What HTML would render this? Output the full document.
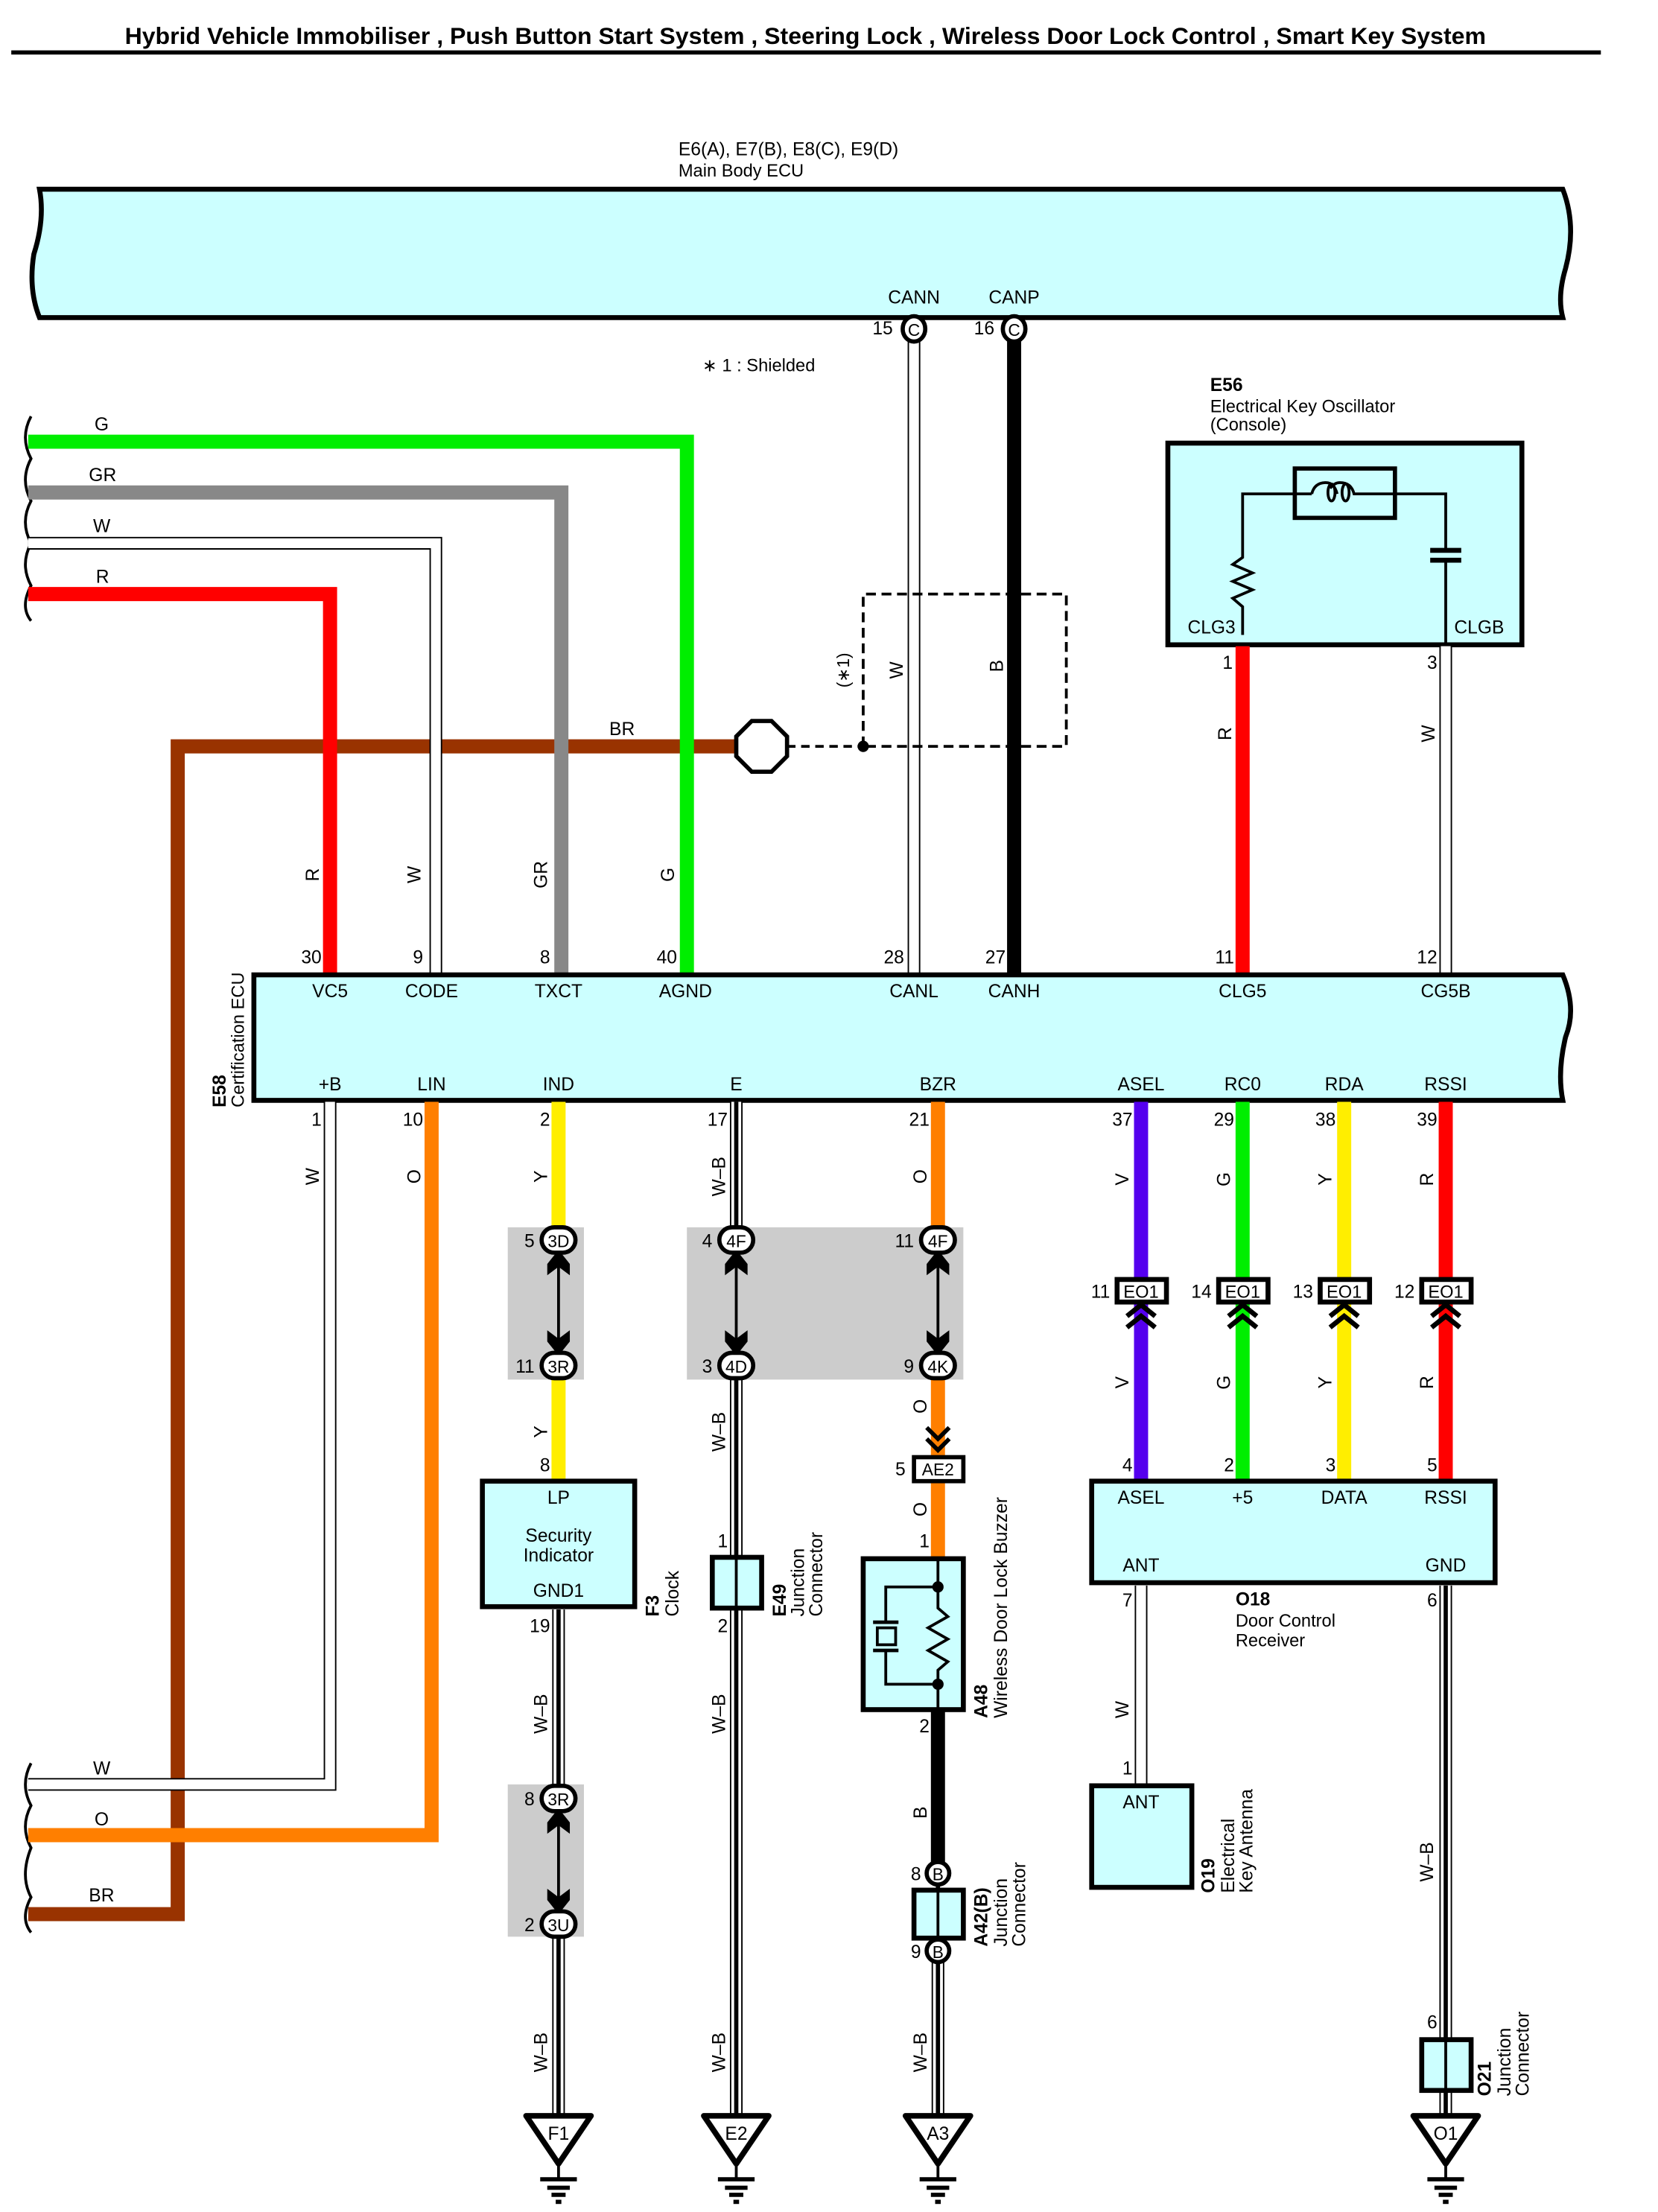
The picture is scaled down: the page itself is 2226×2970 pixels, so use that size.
<!DOCTYPE html>
<html><head><meta charset="utf-8"><style>
html,body{margin:0;padding:0;background:#fff}
svg{display:block}
text{font-family:"Liberation Sans",sans-serif;font-size:13px;fill:#000}
.b{font-weight:bold}
.m{text-anchor:middle}
.e{text-anchor:end}
</style></head><body>
<svg width="2226" height="2970" viewBox="0 0 1175.5 1568" xmlns="http://www.w3.org/2000/svg">
<defs>
<g id="gnd"><path d="M-23,0 L23,0 L0,34 Z" fill="#fff" stroke="#000" stroke-width="4" stroke-linejoin="round"/><line x1="0" y1="34" x2="0" y2="44" stroke="#000" stroke-width="2"/><line x1="-13" y1="45" x2="13" y2="45" stroke="#000" stroke-width="3"/><line x1="-8" y1="51" x2="8" y2="51" stroke="#000" stroke-width="3"/><line x1="-5" y1="56" x2="5" y2="56" stroke="#000" stroke-width="3"/><line x1="-2" y1="61" x2="2" y2="61" stroke="#000" stroke-width="3"/></g>
</defs>
<!-- title -->
<text x="571" y="31" class="b m" style="font-size:16.5px" textLength="965" lengthAdjust="spacingAndGlyphs">Hybrid Vehicle Immobiliser , Push Button Start System , Steering Lock , Wireless Door Lock Control , Smart Key System</text>
<line x1="8" y1="37" x2="1135" y2="37" stroke="#000" stroke-width="3"/>

<!-- main body ECU -->
<text x="481" y="110" style="font-size:13px">E6(A), E7(B), E8(C), E9(D)</text>
<text x="481" y="125" style="font-size:12.5px">Main Body ECU</text>
<path d="M28,134 L1108,134 Q1118,160 1110,190 Q1104,210 1108,225 L28,225 Q20,205 24,180 Q32,155 28,134 Z" fill="#ccffff" stroke="#000" stroke-width="3.5"/>
<text x="648" y="215" class="m">CANN</text>
<text x="719" y="215" class="m">CANP</text>
<text x="633" y="237" class="e">15</text>
<text x="705" y="237" class="e">16</text>

<text x="498" y="263" style="font-size:12.5px">∗ 1 : Shielded</text>

<!-- BR (drawn first, under other wires) -->
<polyline points="20,1357 126,1357 126,529 523,529" fill="none" stroke="#993300" stroke-width="10"/>
<text x="432" y="521">BR</text>

<!-- CANN white -->
<line x1="648" y1="240" x2="648" y2="690" stroke="#000" stroke-width="9"/>
<line x1="648" y1="240" x2="648" y2="690" stroke="#fff" stroke-width="7"/>
<line x1="719" y1="240" x2="719" y2="690" stroke="#000" stroke-width="10"/>
<ellipse cx="648" cy="233" rx="8" ry="9" fill="#fff" stroke="#000" stroke-width="3"/><text x="648" y="238" class="m" style="font-size:12px">C</text>
<ellipse cx="719" cy="233" rx="8" ry="9" fill="#fff" stroke="#000" stroke-width="3"/><text x="719" y="238" class="m" style="font-size:12px">C</text>

<!-- left break marks -->
<path d="M22,295 Q14,310 22,325 Q14,340 22,355 Q14,370 22,385 Q14,400 22,415 Q14,430 22,440" fill="none" stroke="#000" stroke-width="2"/>
<path d="M22,1250 Q14,1265 22,1280 Q14,1295 22,1310 Q14,1330 22,1345 Q14,1360 22,1370" fill="none" stroke="#000" stroke-width="2"/>

<polyline points="20,313 487,313 487,690" fill="none" stroke="#00ee00" stroke-width="10"/>
<text x="67" y="305">G</text>
<polyline points="20,349 398,349 398,690" fill="none" stroke="#888" stroke-width="10"/>
<text x="63" y="341">GR</text>
<polyline points="20,385 309,385 309,690" fill="none" stroke="#000" stroke-width="9"/>
<polyline points="20,385 309,385 309,690" fill="none" stroke="#fff" stroke-width="7"/>
<text x="66" y="377">W</text>
<polyline points="20,421 234,421 234,690" fill="none" stroke="#ff0000" stroke-width="10"/>
<text x="68" y="413">R</text>

<polygon points="533,511 547,511 558,522 558,536 547,547 533,547 522,536 522,522" fill="#fff" stroke="#000" stroke-width="3"/>
<line x1="558" y1="529" x2="612" y2="529" stroke="#000" stroke-width="2" stroke-dasharray="6,4"/>
<circle cx="612" cy="529" r="4" fill="#000"/>
<path d="M612,529 L612,421 L756,421 L756,529 L612,529" fill="none" stroke="#000" stroke-width="2" stroke-dasharray="7,4"/>
<text transform="translate(602,475) rotate(-90)" class="m" style="font-size:12px">(∗1)</text>
<text transform="translate(640,475) rotate(-90)" class="m">W</text>
<text transform="translate(711,472) rotate(-90)" class="m">B</text>

<!-- E56 -->
<text x="858" y="277" class="b">E56</text>
<text x="858" y="292" style="font-size:12.5px">Electrical Key Oscillator</text>
<text x="858" y="305" style="font-size:12.5px">(Console)</text>
<rect x="828" y="314" width="251" height="143" fill="#ccffff" stroke="#000" stroke-width="3.5"/>
<rect x="918" y="332" width="71" height="35" fill="none" stroke="#000" stroke-width="3"/>
<polyline points="881,450 881,430 874,424 888,418 874,412 888,406 874,400 881,395 881,350 930,350" fill="none" stroke="#000" stroke-width="2"/>
<path d="M930,350 Q932,342 940,342 Q946,342 948,350 M943,346 Q946,342 950,342 Q958,342 960,350 L990,350" fill="none" stroke="#000" stroke-width="2"/>
<ellipse cx="944" cy="349" rx="2.5" ry="6" fill="none" stroke="#000" stroke-width="2"/>
<ellipse cx="954" cy="349" rx="2.5" ry="6" fill="none" stroke="#000" stroke-width="2"/>
<polyline points="990,350 1025,350 1025,389" fill="none" stroke="#000" stroke-width="2"/>
<line x1="1014" y1="390" x2="1036" y2="390" stroke="#000" stroke-width="3.5"/>
<line x1="1014" y1="397" x2="1036" y2="397" stroke="#000" stroke-width="3.5"/>
<line x1="1025" y1="398" x2="1025" y2="457" stroke="#000" stroke-width="2"/>
<text x="842" y="449">CLG3</text>
<text x="1031" y="449">CLGB</text>
<line x1="881" y1="458" x2="881" y2="690" stroke="#ff0000" stroke-width="10"/>
<line x1="1025" y1="458" x2="1025" y2="690" stroke="#000" stroke-width="9"/>
<line x1="1025" y1="458" x2="1025" y2="690" stroke="#fff" stroke-width="7"/>
<text x="874" y="474" class="e">1</text>
<text x="1019" y="474" class="e">3</text>
<text transform="translate(873,520) rotate(-90)" class="m">R</text>
<text transform="translate(1017,520) rotate(-90)" class="m">W</text>

<text transform="translate(226,620) rotate(-90)" class="m">R</text>
<text transform="translate(298,620) rotate(-90)" class="m">W</text>
<text transform="translate(388,620) rotate(-90)" class="m">GR</text>
<text transform="translate(478,620) rotate(-90)" class="m">G</text>
<text x="228" y="683" class="e">30</text>
<text x="300" y="683" class="e">9</text>
<text x="390" y="683" class="e">8</text>
<text x="480" y="683" class="e">40</text>
<text x="641" y="683" class="e">28</text>
<text x="713" y="683" class="e">27</text>
<text x="875" y="683" class="e">11</text>
<text x="1019" y="683" class="e">12</text>

<!-- Certification ECU -->
<path d="M180,691 L1108,691 Q1118,715 1110,735 Q1104,760 1108,780 L180,780 Z" fill="#ccffff" stroke="#000" stroke-width="3.5"/>
<text transform="translate(160,785) rotate(-90)" class="b">E58</text>
<text transform="translate(173,785) rotate(-90)" style="font-size:12.5px">Certification ECU</text>
<text x="234" y="707" class="m">VC5</text><text x="306" y="707" class="m">CODE</text><text x="396" y="707" class="m">TXCT</text><text x="486" y="707" class="m">AGND</text><text x="648" y="707" class="m">CANL</text><text x="719" y="707" class="m">CANH</text><text x="881" y="707" class="m">CLG5</text><text x="1025" y="707" class="m">CG5B</text>
<text x="234" y="773" class="m">+B</text><text x="306" y="773" class="m">LIN</text><text x="396" y="773" class="m">IND</text><text x="522" y="773" class="m">E</text><text x="665" y="773" class="m">BZR</text><text x="809" y="773" class="m">ASEL</text><text x="881" y="773" class="m">RC0</text><text x="953" y="773" class="m">RDA</text><text x="1025" y="773" class="m">RSSI</text>
<text x="228" y="798" class="e">1</text>
<text x="300" y="798" class="e">10</text>
<text x="390" y="798" class="e">2</text>
<text x="516" y="798" class="e">17</text>
<text x="659" y="798" class="e">21</text>
<text x="803" y="798" class="e">37</text>
<text x="875" y="798" class="e">29</text>
<text x="947" y="798" class="e">38</text>
<text x="1019" y="798" class="e">39</text>

<polyline points="234,781 234,1265 20,1265" fill="none" stroke="#000" stroke-width="9"/>
<polyline points="234,781 234,1265 20,1265" fill="none" stroke="#fff" stroke-width="7"/>
<text transform="translate(226,834) rotate(-90)" class="m">W</text>
<text x="66" y="1258">W</text>
<polyline points="306,781 306,1301 20,1301" fill="none" stroke="#ff7f00" stroke-width="10"/>
<text transform="translate(298,834) rotate(-90)" class="m">O</text>
<text x="67" y="1294">O</text>
<text x="63" y="1348">BR</text>

<rect x="360" y="870" width="54" height="108" fill="#cccccc"/>
<rect x="487" y="870" width="196" height="108" fill="#cccccc"/>
<rect x="360" y="1265" width="54" height="108" fill="#cccccc"/>

<!-- IND Y -->
<line x1="396" y1="781" x2="396" y2="872" stroke="#ffee00" stroke-width="10"/>
<line x1="396" y1="976" x2="396" y2="1050" stroke="#ffee00" stroke-width="10"/>
<text transform="translate(388,834) rotate(-90)" class="m">Y</text>
<text transform="translate(388,1015) rotate(-90)" class="m">Y</text>
<text x="390" y="1043" class="e">8</text>
<!-- E W-B -->
<g>
<line x1="522" y1="781" x2="522" y2="872" stroke="#000" stroke-width="9"/>
<line x1="522" y1="781" x2="522" y2="872" stroke="#fff" stroke-width="7"/>
<line x1="522" y1="781" x2="522" y2="872" stroke="#000" stroke-width="3"/>
<line x1="522" y1="976" x2="522" y2="1500" stroke="#000" stroke-width="9"/>
<line x1="522" y1="976" x2="522" y2="1500" stroke="#fff" stroke-width="7"/>
<line x1="522" y1="976" x2="522" y2="1500" stroke="#000" stroke-width="3"/>
</g>
<text transform="translate(514,834) rotate(-90)" class="m">W–B</text>
<text transform="translate(514,1015) rotate(-90)" class="m">W–B</text>
<text transform="translate(514,1215) rotate(-90)" class="m">W–B</text>
<text transform="translate(514,1455) rotate(-90)" class="m">W–B</text>
<!-- BZR O -->
<line x1="665" y1="781" x2="665" y2="872" stroke="#ff7f00" stroke-width="10"/>
<line x1="665" y1="976" x2="665" y2="1105" stroke="#ff7f00" stroke-width="10"/>
<text transform="translate(657,834) rotate(-90)" class="m">O</text>
<text transform="translate(657,997) rotate(-90)" class="m">O</text>
<text transform="translate(657,1070) rotate(-90)" class="m">O</text>

<!-- F1 W-B -->
<line x1="396" y1="1141" x2="396" y2="1268" stroke="#000" stroke-width="9"/>
<line x1="396" y1="1141" x2="396" y2="1268" stroke="#fff" stroke-width="7"/>
<line x1="396" y1="1141" x2="396" y2="1268" stroke="#000" stroke-width="3"/>
<line x1="396" y1="1371" x2="396" y2="1500" stroke="#000" stroke-width="9"/>
<line x1="396" y1="1371" x2="396" y2="1500" stroke="#fff" stroke-width="7"/>
<line x1="396" y1="1371" x2="396" y2="1500" stroke="#000" stroke-width="3"/>

<g stroke="#000" fill="#000">
<line x1="396" y1="890" x2="396" y2="958" stroke-width="2"/>
<line x1="522" y1="890" x2="522" y2="958" stroke-width="2"/>
<line x1="665" y1="890" x2="665" y2="958" stroke-width="2"/>
<line x1="396" y1="1285" x2="396" y2="1354" stroke-width="2"/>
<path d="M396,886 L404,896 L404,904 L396,898 L388,904 L388,896Z M396,961 L404,951 L404,943 L396,949 L388,943 L388,951Z" stroke="none"/>
<path d="M522,886 L530,896 L530,904 L522,898 L514,904 L514,896Z M522,961 L530,951 L530,943 L522,949 L514,943 L514,951Z" stroke="none"/>
<path d="M665,886 L673,896 L673,904 L665,898 L657,904 L657,896Z M665,961 L673,951 L673,943 L665,949 L657,943 L657,951Z" stroke="none"/>
<path d="M396,1282 L404,1292 L404,1300 L396,1294 L388,1300 L388,1292Z M396,1357 L404,1347 L404,1339 L396,1345 L388,1339 L388,1347Z" stroke="none"/>
</g>
<g fill="#fff" stroke="#000" stroke-width="3">
<rect x="384" y="870" width="24" height="18" rx="9"/>
<rect x="384" y="959" width="24" height="18" rx="9"/>
<rect x="510" y="870" width="24" height="18" rx="9"/>
<rect x="510" y="959" width="24" height="18" rx="9"/>
<rect x="653" y="870" width="24" height="18" rx="9"/>
<rect x="653" y="959" width="24" height="18" rx="9"/>
<rect x="384" y="1266" width="24" height="18" rx="9"/>
<rect x="384" y="1355" width="24" height="18" rx="9"/>
</g>
<text x="396" y="884" class="m" style="font-size:12px">3D</text><text x="396" y="973" class="m" style="font-size:12px">3R</text>
<text x="522" y="884" class="m" style="font-size:12px">4F</text><text x="522" y="973" class="m" style="font-size:12px">4D</text>
<text x="665" y="884" class="m" style="font-size:12px">4F</text><text x="665" y="973" class="m" style="font-size:12px">4K</text>
<text x="396" y="1280" class="m" style="font-size:12px">3R</text><text x="396" y="1369" class="m" style="font-size:12px">3U</text>
<text x="379" y="884" class="e">5</text><text x="379" y="973" class="e">11</text>
<text x="505" y="884" class="e">4</text><text x="505" y="973" class="e">3</text>
<text x="648" y="884" class="e">11</text><text x="648" y="973" class="e">9</text>
<text x="379" y="1280" class="e">8</text><text x="379" y="1369" class="e">2</text>

<!-- Security indicator -->
<rect x="342" y="1050" width="108" height="89" fill="#ccffff" stroke="#000" stroke-width="3.5"/>
<text x="396" y="1066" class="m">LP</text>
<text x="396" y="1093" class="m">Security</text>
<text x="396" y="1107" class="m">Indicator</text>
<text x="396" y="1132" class="m">GND1</text>
<text transform="translate(467,1146) rotate(-90)" class="b">F3</text>
<text transform="translate(481,1146) rotate(-90)">Clock</text>
<text x="390" y="1157" class="e">19</text>
<text transform="translate(388,1215) rotate(-90)" class="m">W–B</text>
<text transform="translate(388,1455) rotate(-90)" class="m">W–B</text>

<!-- E49 -->
<rect x="505" y="1104" width="35" height="36" fill="#ccffff" stroke="#000" stroke-width="3.5"/>
<line x1="522" y1="1104" x2="522" y2="1140" stroke="#000" stroke-width="2"/>
<text x="516" y="1097" class="e">1</text>
<text x="516" y="1157" class="e">2</text>
<text transform="translate(557,1146) rotate(-90)" class="b">E49</text>
<text transform="translate(570,1146) rotate(-90)">Junction</text>
<text transform="translate(583,1146) rotate(-90)">Connector</text>

<!-- AE2 -->
<path d="M657,1012 L665,1020 L673,1012 M657,1020 L665,1028 L673,1020" fill="none" stroke="#000" stroke-width="3"/>
<rect x="648" y="1033" width="35" height="17" fill="#fff" stroke="#000" stroke-width="3"/>
<text x="665" y="1046" class="m" style="font-size:12px">AE2</text>
<text x="642" y="1046" class="e">5</text>
<text x="659" y="1097" class="e">1</text>

<!-- A48 -->
<rect x="612" y="1105" width="71" height="107" fill="#ccffff" stroke="#000" stroke-width="3.5"/>
<polyline points="665,1105 665,1140 672,1146 658,1154 672,1162 658,1170 672,1178 665,1184 665,1212" fill="none" stroke="#000" stroke-width="2"/>
<circle cx="665" cy="1125" r="4" fill="#000"/><circle cx="665" cy="1194" r="4" fill="#000"/>
<polyline points="665,1125 628,1125 628,1150" fill="none" stroke="#000" stroke-width="2"/>
<polyline points="665,1194 628,1194 628,1170" fill="none" stroke="#000" stroke-width="2"/>
<line x1="619" y1="1150" x2="637" y2="1150" stroke="#000" stroke-width="2.5"/>
<line x1="619" y1="1170" x2="637" y2="1170" stroke="#000" stroke-width="2.5"/>
<rect x="622" y="1154" width="13" height="12" fill="none" stroke="#000" stroke-width="2"/>
<text transform="translate(700,1218) rotate(-90)" class="b">A48</text>
<text transform="translate(714,1218) rotate(-90)">Wireless Door Lock Buzzer</text>
<line x1="665" y1="1213" x2="665" y2="1320" stroke="#000" stroke-width="10"/>
<text x="659" y="1228" class="e">2</text>
<text transform="translate(657,1285) rotate(-90)" class="m">B</text>
<line x1="665" y1="1390" x2="665" y2="1500" stroke="#000" stroke-width="9"/>
<line x1="665" y1="1390" x2="665" y2="1500" stroke="#fff" stroke-width="7"/>
<line x1="665" y1="1336" x2="665" y2="1500" stroke="#000" stroke-width="3"/>
<rect x="648" y="1340" width="35" height="34" fill="#ccffff" stroke="#000" stroke-width="3.5"/>
<line x1="665" y1="1340" x2="665" y2="1374" stroke="#000" stroke-width="2"/>
<circle cx="665" cy="1328" r="8" fill="#fff" stroke="#000" stroke-width="3"/><text x="665" y="1333" class="m" style="font-size:12px">B</text>
<circle cx="665" cy="1383" r="8" fill="#fff" stroke="#000" stroke-width="3"/><text x="665" y="1388" class="m" style="font-size:12px">B</text>
<text x="653" y="1333" class="e">8</text>
<text x="653" y="1388" class="e">9</text>
<text transform="translate(700,1380) rotate(-90)" class="b">A42(B)</text>
<text transform="translate(714,1380) rotate(-90)">Junction</text>
<text transform="translate(727,1380) rotate(-90)">Connector</text>
<text transform="translate(657,1455) rotate(-90)" class="m">W–B</text>

<!-- right wires -->
<line x1="809" y1="781" x2="809" y2="1050" stroke="#5500ee" stroke-width="10"/>
<line x1="881" y1="781" x2="881" y2="1050" stroke="#00ee00" stroke-width="10"/>
<line x1="953" y1="781" x2="953" y2="1050" stroke="#ffee00" stroke-width="10"/>
<line x1="1025" y1="781" x2="1025" y2="1050" stroke="#ff0000" stroke-width="10"/>
<g fill="#fff" stroke="#000" stroke-width="3.5">
<rect x="792" y="907" width="35" height="16"/><rect x="864" y="907" width="35" height="16"/><rect x="936" y="907" width="35" height="16"/><rect x="1008" y="907" width="35" height="16"/>
</g>
<g fill="none" stroke="#000" stroke-width="3.5">
<path d="M799,933 L809,925 L819,933 M799,941 L809,933 L819,941"/>
<path d="M871,933 L881,925 L891,933 M871,941 L881,933 L891,941"/>
<path d="M943,933 L953,925 L963,933 M943,941 L953,933 L963,941"/>
<path d="M1015,933 L1025,925 L1035,933 M1015,941 L1025,933 L1035,941"/>
</g>
<text x="809" y="920" class="m" style="font-size:12.5px">EO1</text>
<text x="881" y="920" class="m" style="font-size:12.5px">EO1</text>
<text x="953" y="920" class="m" style="font-size:12.5px">EO1</text>
<text x="1025" y="920" class="m" style="font-size:12.5px">EO1</text>
<text x="787" y="920" class="e">11</text><text x="859" y="920" class="e">14</text><text x="931" y="920" class="e">13</text><text x="1003" y="920" class="e">12</text>
<text transform="translate(800,836) rotate(-90)" class="m">V</text>
<text transform="translate(872,836) rotate(-90)" class="m">G</text>
<text transform="translate(944,836) rotate(-90)" class="m">Y</text>
<text transform="translate(1016,836) rotate(-90)" class="m">R</text>
<text transform="translate(800,980) rotate(-90)" class="m">V</text>
<text transform="translate(872,980) rotate(-90)" class="m">G</text>
<text transform="translate(944,980) rotate(-90)" class="m">Y</text>
<text transform="translate(1016,980) rotate(-90)" class="m">R</text>
<text x="803" y="1043" class="e">4</text><text x="875" y="1043" class="e">2</text><text x="947" y="1043" class="e">3</text><text x="1019" y="1043" class="e">5</text>

<!-- O18 -->
<rect x="774" y="1050" width="286" height="72" fill="#ccffff" stroke="#000" stroke-width="3.5"/>
<text x="809" y="1066" class="m">ASEL</text><text x="881" y="1066" class="m">+5</text><text x="953" y="1066" class="m">DATA</text><text x="1025" y="1066" class="m">RSSI</text>
<text x="809" y="1114" class="m">ANT</text><text x="1025" y="1114" class="m">GND</text>
<text x="876" y="1138" class="b">O18</text>
<text x="876" y="1153" style="font-size:12.5px">Door Control</text>
<text x="876" y="1167" style="font-size:12.5px">Receiver</text>
<text x="803" y="1139" class="e">7</text>
<text x="1019" y="1139" class="e">6</text>
<line x1="809" y1="1124" x2="809" y2="1265" stroke="#000" stroke-width="9"/>
<line x1="809" y1="1124" x2="809" y2="1265" stroke="#fff" stroke-width="7"/>
<text transform="translate(800,1212) rotate(-90)" class="m">W</text>
<text x="803" y="1258" class="e">1</text>
<rect x="774" y="1266" width="71" height="72" fill="#ccffff" stroke="#000" stroke-width="3.5"/>
<text x="809" y="1282" class="m">ANT</text>
<text transform="translate(861,1342) rotate(-90)" class="b">O19</text>
<text transform="translate(875,1342) rotate(-90)">Electrical</text>
<text transform="translate(888,1342) rotate(-90)">Key Antenna</text>

<line x1="1025" y1="1124" x2="1025" y2="1500" stroke="#000" stroke-width="9"/>
<line x1="1025" y1="1124" x2="1025" y2="1500" stroke="#fff" stroke-width="7"/>
<line x1="1025" y1="1124" x2="1025" y2="1500" stroke="#000" stroke-width="3"/>
<text transform="translate(1016,1320) rotate(-90)" class="m">W–B</text>
<text x="1019" y="1438" class="e">6</text>
<rect x="1008" y="1446" width="35" height="36" fill="#ccffff" stroke="#000" stroke-width="3.5"/>
<line x1="1025" y1="1446" x2="1025" y2="1482" stroke="#000" stroke-width="2"/>
<text transform="translate(1057,1486) rotate(-90)" class="b">O21</text>
<text transform="translate(1071,1486) rotate(-90)">Junction</text>
<text transform="translate(1084,1486) rotate(-90)">Connector</text>

<use href="#gnd" x="396" y="1500"/><text x="396" y="1517" class="m">F1</text>
<use href="#gnd" x="522" y="1500"/><text x="522" y="1517" class="m">E2</text>
<use href="#gnd" x="665" y="1500"/><text x="665" y="1517" class="m">A3</text>
<use href="#gnd" x="1025" y="1500"/><text x="1025" y="1517" class="m">O1</text>
</svg>
</body></html>
